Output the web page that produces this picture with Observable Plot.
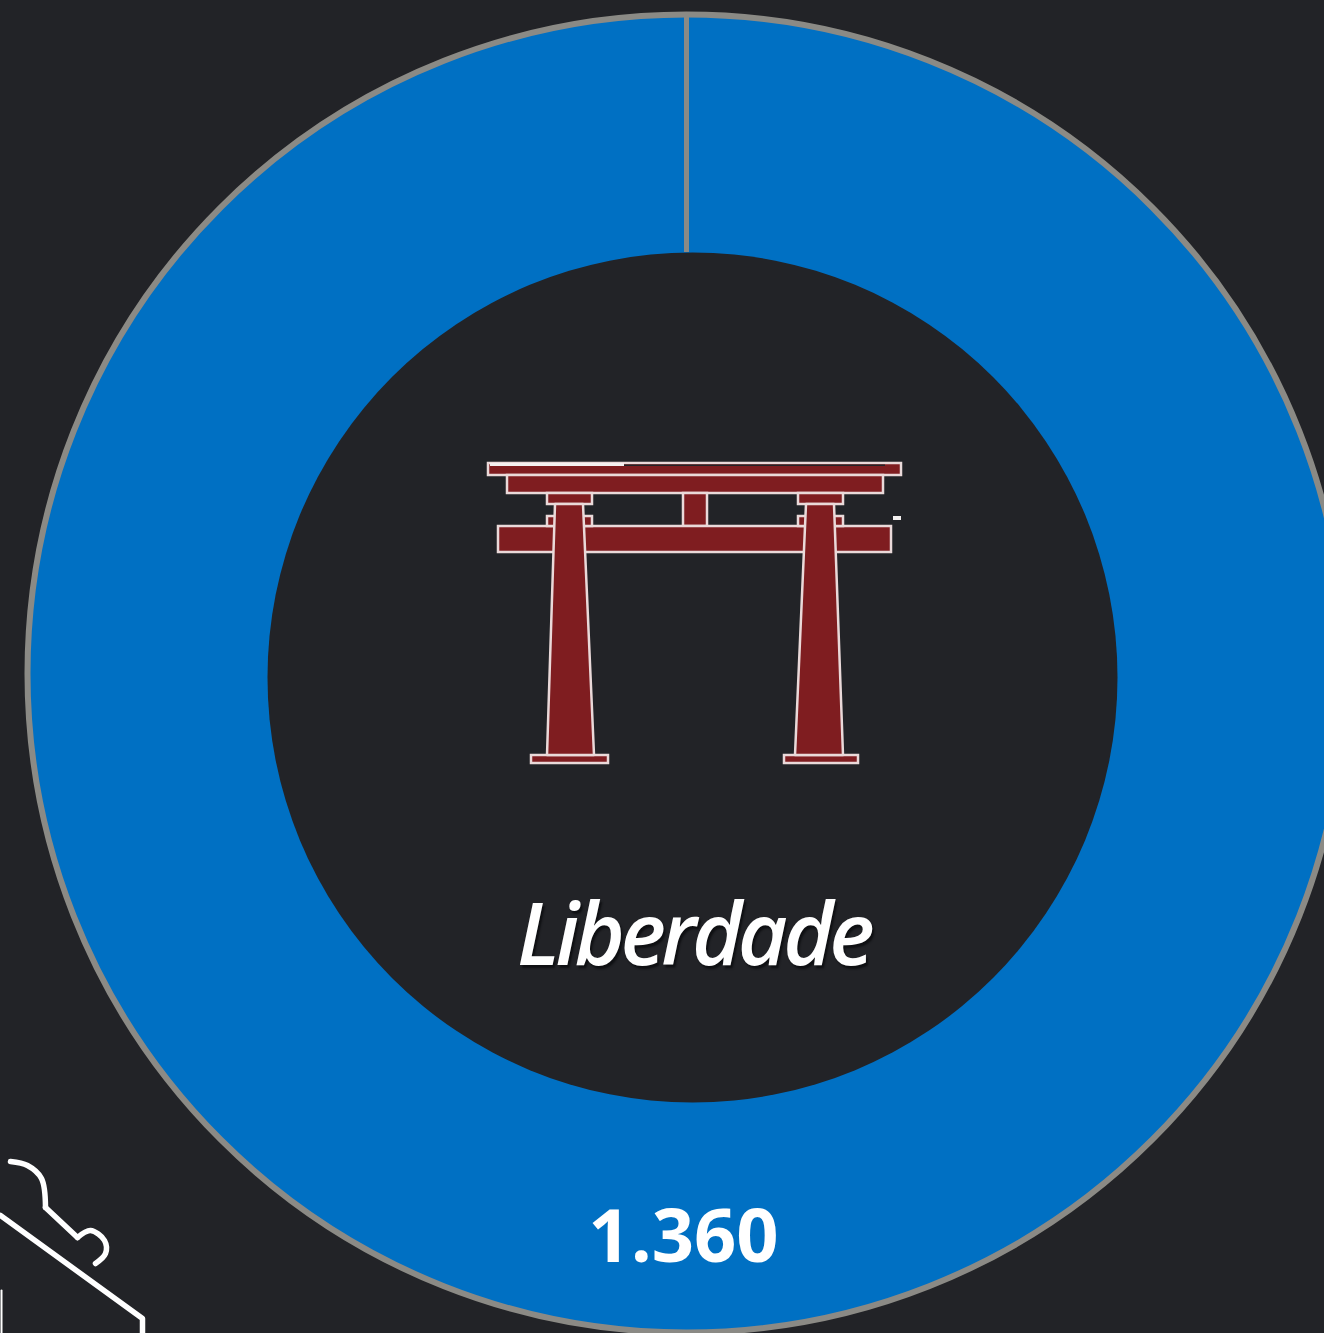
<!DOCTYPE html>
<html>
<head>
<meta charset="utf-8">
<script src="https://cdn.jsdelivr.net/npm/d3@7"></script>
<script src="https://cdn.jsdelivr.net/npm/@observablehq/plot@0.6"></script>
<style>
html,body{margin:0;padding:0;background:#222327;overflow:hidden}
svg{display:block}
</style>
</head>
<body>
<div id="chart"></div>
<script>
const neighbourhood = "Liberdade";
const total = 1360;
const valueLabel = d3.format(",")(total).replace(",", ".");

const ringCentre = [{x: 686, y: 673}];
const holeCentre = [{x: 692, y: 677}];
const seam = [{x: 686, y1: 17, y2: 252}];

const beams = [
  {x1: 488, x2: 901, y1: 463, y2: 475},
  {x1: 507, x2: 883, y1: 475, y2: 493},
  {x1: 683, x2: 707, y1: 493, y2: 526},
  {x1: 498, x2: 891, y1: 526, y2: 552},
  {x1: 547, x2: 592, y1: 493, y2: 504},
  {x1: 798, x2: 843, y1: 493, y2: 504},
  {x1: 547, x2: 592, y1: 516, y2: 526},
  {x1: 798, x2: 843, y1: 516, y2: 526},
  {x1: 531, x2: 608, y1: 755, y2: 763},
  {x1: 784, x2: 858, y1: 755, y2: 763}
];
const pillarLeft = [{y: 504, x1: 555, x2: 583}, {y: 755, x1: 547, x2: 594}];
const pillarRight = [{y: 504, x1: 806, x2: 834}, {y: 755, x1: 795, x2: 843}];
const highlights = [
  {x1: 490, x2: 624, y1: 463, y2: 466},
  {x1: 893, x2: 901, y1: 516, y2: 520}
];
const roofGap = [{x1: 624, x2: 885, y1: 464.5, y2: 466}];

const hookCurve = [{x: 10, y: 1161}, {x: 27, y: 1165}, {x: 41, y: 1178}, {x: 45, y: 1207}];
const hookNeck = [{x: 45, y: 1207}, {x: 77, y: 1237}];
const hookEnd = [{x: 77, y: 1237}, {x: 90, y: 1230}, {x: 104, y: 1240}, {x: 105, y: 1253}, {x: 95, y: 1263}];
const hangerBar = [{x: 0, y: 1215}, {x: 142, y: 1318}, {x: 142, y: 1333}];
const hangerStub = [{x: 1, y: 1290}, {x: 1, y: 1333}];

const bg = "#222327", blue = "#0070c3", edge = "#8b8a85", red = "#7f1d20", rim = "#ead9d9";
const font = "'Open Sans'";
const white = {stroke: "#ffffff", strokeWidth: 5.5, strokeLinecap: "round", strokeLinejoin: "round"};

const chart = Plot.plot({
  width: 1324,
  height: 1333,
  margin: 0,
  style: {background: bg, overflow: "hidden"},
  x: {domain: [0, 1324], range: [0, 1324], axis: null},
  y: {domain: [0, 1333], range: [0, 1333], axis: null},
  marks: [
    Plot.dot(ringCentre, {x: "x", y: "y", r: 659, fill: blue, stroke: edge, strokeWidth: 6}),
    Plot.ruleX(seam, {x: "x", y1: "y1", y2: "y2", stroke: edge, strokeWidth: 5}),
    Plot.dot(holeCentre, {x: "x", y: "y", r: 425, fill: bg}),
    Plot.rect(beams, {x1: "x1", x2: "x2", y1: "y1", y2: "y2", fill: red, stroke: rim, strokeWidth: 2.5}),
    Plot.areaX(pillarLeft, {x1: "x1", x2: "x2", y: "y", fill: red, stroke: rim, strokeWidth: 2.5}),
    Plot.areaX(pillarRight, {x1: "x1", x2: "x2", y: "y", fill: red, stroke: rim, strokeWidth: 2.5}),
    Plot.rect(highlights, {x1: "x1", x2: "x2", y1: "y1", y2: "y2", fill: "#f4f0f0"}),
    Plot.rect(roofGap, {x1: "x1", x2: "x2", y1: "y1", y2: "y2", fill: bg}),
    Plot.line(hookCurve, {x: "x", y: "y", curve: "catmull-rom", ...white}),
    Plot.line(hookNeck, {x: "x", y: "y", ...white}),
    Plot.line(hookEnd, {x: "x", y: "y", curve: "catmull-rom", ...white}),
    Plot.line(hangerBar, {x: "x", y: "y", ...white}),
    Plot.line(hangerStub, {x: "x", y: "y", stroke: "#ffffff", strokeWidth: 2}),
    Plot.text([neighbourhood], {x: 693, y: 937, text: d => d, fontFamily: font, fontStyle: "italic", fontWeight: 600, fontSize: 86, fill: "#ffffff", textAnchor: "middle"}),
    Plot.text([valueLabel], {x: 683, y: 1238, text: d => d, fontFamily: font, fontWeight: 700, fontSize: 74, fill: "#ffffff", textAnchor: "middle"})
  ]
});
chart.querySelectorAll("text").forEach(t => {
  if (t.textContent === neighbourhood) {
    t.style.letterSpacing = "-4.5px";
    t.style.textShadow = "2px 3px 2px #0f1013";
  }
});
document.getElementById("chart").append(chart);
</script>
</body>
</html>
